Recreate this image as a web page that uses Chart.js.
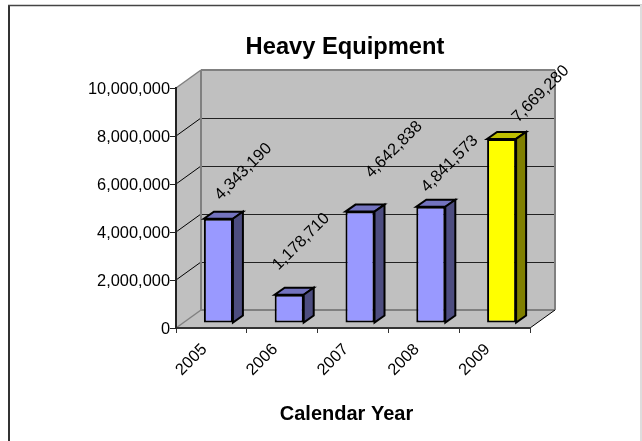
<!DOCTYPE html>
<html>
<head>
<title>Heavy Equipment</title>
<style>
    body { margin: 0; background: #fff; }
    canvas { display: block; }
</style>
</head>
<body>

<canvas id="myChart" width="642" height="441"></canvas>

<script src="https://cdn.jsdelivr.net/npm/chart.js"></script>

<script>

    const years = ['2005', '2006', '2007', '2008', '2009'];
    const values = [4343190, 1178710, 4642838, 4841573, 7669280];
    const frontColors = ['#9999ff', '#9999ff', '#9999ff', '#9999ff', '#ffff00'];
    const sideColors = ['#4d4d80', '#4d4d80', '#4d4d80', '#4d4d80', '#808000'];
    const topColors = ['#7373bf', '#7373bf', '#7373bf', '#7373bf', '#bfbf00'];
    // label offset from bar top, excel puts these in odd places
    const labelShiftX = [25, 12, 34, 19, 39];
    const labelShiftY = [-47, -53, -62, -43, -45];

    const FONT = '"Liberation Sans", Arial, sans-serif';
    const WALL_X = 25, WALL_Y = -18;   // depth of the box
    const BAR_X = 7, BAR_Y = -5;       // bars stand a bit behind the front edge
    const DEPTH_X = 10, DEPTH_Y = -7;  // depth of one bar

    function poly(ctx, pts, fill, stroke, lw) {
        ctx.beginPath();
        pts.forEach((p, i) => i ? ctx.lineTo(p[0], p[1]) : ctx.moveTo(p[0], p[1]));
        ctx.closePath();
        if (fill) { ctx.fillStyle = fill; ctx.fill(); }
        if (stroke) { ctx.strokeStyle = stroke; ctx.lineWidth = lw; ctx.stroke(); }
    }

    function line(ctx, x1, y1, x2, y2, color, lw) {
        ctx.beginPath();
        ctx.moveTo(x1, y1);
        ctx.lineTo(x2, y2);
        ctx.strokeStyle = color;
        ctx.lineWidth = lw;
        ctx.stroke();
    }

    const box3d = {
        id: 'box3d',
        beforeDraw(chart) {
            const ctx = chart.ctx;
            const a = chart.chartArea;
            const yScale = chart.scales.y;
            ctx.save();

            // frame
            ctx.fillStyle = '#fff';
            ctx.fillRect(0, 0, chart.width, chart.height);
            line(ctx, 9, 5, 9, chart.height, '#333', 2);
            line(ctx, 8, 5.5, chart.width, 5.5, '#444', 1.5);
            line(ctx, chart.width - 1, 5, chart.width - 1, chart.height, '#ddd', 2);

            // floor, side wall, back wall
            poly(ctx, [[a.left, a.bottom], [a.right, a.bottom], [a.right + WALL_X, a.bottom + WALL_Y], [a.left + WALL_X, a.bottom + WALL_Y]], '#c0c0c0');
            poly(ctx, [[a.left, a.top], [a.left + WALL_X, a.top + WALL_Y], [a.left + WALL_X, a.bottom + WALL_Y], [a.left, a.bottom]], '#c0c0c0');
            poly(ctx, [[a.left + WALL_X, a.top + WALL_Y], [a.right + WALL_X, a.top + WALL_Y], [a.right + WALL_X, a.bottom + WALL_Y], [a.left + WALL_X, a.bottom + WALL_Y]], '#c0c0c0');

            // gridlines run along side wall and back wall
            yScale.ticks.forEach(t => {
                if (t.value === 0 || t.value === yScale.max) return;
                const y = Math.round(yScale.getPixelForValue(t.value));
                line(ctx, a.left, y, a.left + WALL_X, y + WALL_Y, '#000', 1);
                line(ctx, a.left + WALL_X, y + WALL_Y + 0.5, a.right + WALL_X, y + WALL_Y + 0.5, '#222', 1);
            });

            // wall edges
            line(ctx, a.left, a.top, a.left + WALL_X, a.top + WALL_Y, '#808080', 1.5);
            line(ctx, a.left + WALL_X, a.top + WALL_Y, a.right + WALL_X, a.top + WALL_Y, '#808080', 2);
            line(ctx, a.left + WALL_X, a.top + WALL_Y, a.left + WALL_X, a.bottom + WALL_Y, '#808080', 2);
            line(ctx, a.right + WALL_X, a.top + WALL_Y, a.right + WALL_X, a.bottom + WALL_Y, '#808080', 2);
            line(ctx, a.left + WALL_X, a.bottom + WALL_Y, a.right + WALL_X, a.bottom + WALL_Y, '#808080', 2);
            line(ctx, a.left, a.bottom, a.left + WALL_X, a.bottom + WALL_Y, '#808080', 1.5);
            line(ctx, a.right, a.bottom, a.right + WALL_X, a.bottom + WALL_Y, '#000', 1);

            ctx.restore();
        },
        beforeDatasetsDraw(chart) {
            const ctx = chart.ctx;
            ctx.save();
            ctx.translate(BAR_X, BAR_Y);
            chart.getDatasetMeta(0).data.forEach((bar, i) => {
                const l = bar.x - bar.width / 2, r = bar.x + bar.width / 2;
                poly(ctx, [[l, bar.y], [r, bar.y], [r + DEPTH_X, bar.y + DEPTH_Y], [l + DEPTH_X, bar.y + DEPTH_Y]], topColors[i], '#000', 2);
                poly(ctx, [[r, bar.y], [r + DEPTH_X, bar.y + DEPTH_Y], [r + DEPTH_X, bar.base + DEPTH_Y], [r, bar.base]], sideColors[i], '#000', 2);
            });
        },
        afterDatasetsDraw(chart) {
            const ctx = chart.ctx;
            const bars = chart.getDatasetMeta(0).data;
            ctx.restore();

            // value labels
            ctx.save();
            ctx.font = '16.4px ' + FONT;
            ctx.fillStyle = '#000';
            ctx.textAlign = 'center';
            ctx.textBaseline = 'middle';
            bars.forEach((bar, i) => {
                ctx.save();
                ctx.translate(bar.x + BAR_X + labelShiftX[i], bar.y + BAR_Y + labelShiftY[i]);
                ctx.rotate(-Math.PI / 4);
                ctx.fillText(values[i].toLocaleString('en-US'), 0, 0);
                ctx.restore();
            });

            // titles
            ctx.textBaseline = 'alphabetic';
            ctx.font = 'bold 23.7px ' + FONT;
            ctx.fillText('Heavy Equipment', 345, 54);
            ctx.font = 'bold 20px ' + FONT;
            ctx.fillText('Calendar Year', 346.5, 420);
            ctx.restore();
        }
    };

    new Chart(document.getElementById('myChart'), {
        type: 'bar',
        data: {
            labels: years,
            datasets: [{
                data: values,
                backgroundColor: frontColors,
                borderColor: '#000',
                borderWidth: 2,
                borderSkipped: false,
                barPercentage: 0.41,
                categoryPercentage: 1
            }]
        },
        options: {
            responsive: false,
            animation: false,
            events: [],
            layout: { padding: { top: 88, right: 112 } },
            plugins: {
                legend: { display: false },
                title: { display: false },
                tooltip: { enabled: false }
            },
            scales: {
                x: {
                    afterFit: s => { s.height = 113; },
                    border: { color: '#333', width: 2 },
                    grid: { drawOnChartArea: false, color: '#333', tickLength: 5, lineWidth: 1 },
                    ticks: { color: '#000', font: { family: FONT, size: 16.4 }, minRotation: 45, maxRotation: 45, padding: 7, labelOffset: -7 }
                },
                y: {
                    min: 0,
                    max: 10000000,
                    afterFit: s => { s.width = 176; },
                    border: { color: '#222', width: 2 },
                    grid: { drawOnChartArea: false, color: '#222', tickLength: 6, lineWidth: 1 },
                    ticks: {
                        stepSize: 2000000,
                        color: '#000',
                        padding: 0,
                        labelOffset: 1,
                        font: { family: FONT, size: 16.4 },
                        callback: v => v.toLocaleString('en-US')
                    }
                }
            }
        },
        plugins: [box3d]
    });

</script>

</body>
</html>
